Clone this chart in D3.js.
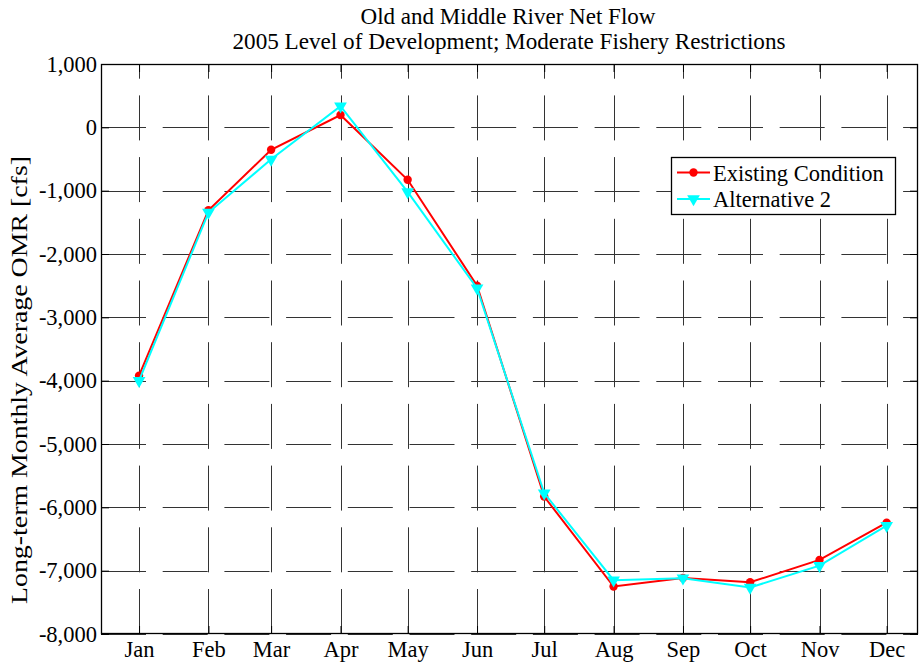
<!DOCTYPE html>
<html><head><meta charset="utf-8">
<script src="https://cdn.jsdelivr.net/npm/d3@7"></script>
<style>body{margin:0;background:#fff}svg{display:block;font-family:"Liberation Serif","Times New Roman",serif}</style>
</head><body>
<svg id="c" width="924" height="665"></svg>
<script>
const months = ["Jan","Feb","Mar","Apr","May","Jun","Jul","Aug","Sep","Oct","Nov","Dec"];
const existing = [-3920,-1310,-354,194,-828,-2500,-5830,-7250,-7115,-7183,-6830,-6242];
const alt2 = [-4000,-1345,-505,335,-1020,-2540,-5775,-7150,-7118,-7265,-6920,-6290];
const yTicks = [1000,0,-1000,-2000,-3000,-4000,-5000,-6000,-7000,-8000];
const titleLines = ["Old and Middle River Net Flow","2005 Level of Development; Moderate Fishery Restrictions"];
const yLabel = "Long-term Monthly Average OMR [cfs]";
const seriesNames = ["Existing Condition","Alternative 2"];

const svg = d3.select("#c");
const L=101, R=918, T=64, B=634;
const dates = months.map((m,i)=>new Date(2001,i,15));
const x = d3.scaleTime().domain([new Date(2000,11,29), new Date(2001,11,29)]).range([L,R]);
const y = d3.scaleLinear().domain([-8000,1000]).range([B,T]);
const fmt = v => d3.format(",")(v).replace("\u2212","-");

// grid
const g = svg.append("g");
dates.forEach(d=>{
  g.append("line").attr("x1",Math.round(x(d))+0.5).attr("x2",Math.round(x(d))+0.5).attr("y1",B).attr("y2",T)
   .attr("stroke","#333").attr("stroke-width",1).attr("stroke-dasharray","45,16.7");
});
yTicks.forEach(v=>{
  g.append("line").attr("y1",Math.round(y(v))+0.5).attr("y2",Math.round(y(v))+0.5).attr("x1",L).attr("x2",R)
   .attr("stroke","#333").attr("stroke-width",1).attr("stroke-dasharray","45,16.7");
});

// axes (inward ticks on all sides)
const tl = 8;
svg.append("g").attr("transform",`translate(0,${B})`)
  .call(d3.axisBottom(x).tickValues(dates).tickFormat((d,i)=>months[i]).tickSizeInner(-tl).tickSizeOuter(0).tickPadding(7))
  .call(a=>{a.select(".domain").remove();a.selectAll("text").attr("font-size",22.5).attr("font-family","Liberation Serif").attr("fill","#000");});
svg.append("g").attr("transform",`translate(0,${T})`)
  .call(d3.axisTop(x).tickValues(dates).tickFormat("").tickSizeInner(-tl).tickSizeOuter(0))
  .call(a=>a.select(".domain").remove());
svg.append("g").attr("transform",`translate(${L},0)`)
  .call(d3.axisLeft(y).tickValues(yTicks).tickFormat(fmt).tickSizeInner(-tl).tickSizeOuter(0).tickPadding(4))
  .call(a=>{a.select(".domain").remove();a.selectAll("text").attr("font-size",22.5).attr("font-family","Liberation Serif").attr("fill","#000");});
svg.append("g").attr("transform",`translate(${R},0)`)
  .call(d3.axisRight(y).tickValues(yTicks).tickFormat("").tickSizeInner(-tl).tickSizeOuter(0))
  .call(a=>a.select(".domain").remove());
svg.selectAll(".tick line").attr("stroke","#000");
svg.append("rect").attr("x",L+0.5).attr("y",T+0.5).attr("width",R-L-1).attr("height",B-T-1)
  .attr("fill","none").attr("stroke","#000").attr("stroke-width",1.3);

// series
const line = d3.line().x((d,i)=>x(dates[i])).y(d=>y(d));
const tri = d3.symbol().type(d3.symbolTriangle).size(70);
function drawSeries(vals,color,marker){
  svg.append("path").datum(vals).attr("d",line).attr("fill","none").attr("stroke",color).attr("stroke-width",2);
  vals.forEach((v,i)=>{
    if(marker==="circle") svg.append("circle").attr("cx",x(dates[i])).attr("cy",y(v)).attr("r",4.2).attr("fill",color);
    else svg.append("path").attr("d",tri).attr("transform",`translate(${x(dates[i])},${y(v)}) rotate(180)`).attr("fill",color);
  });
}
drawSeries(existing,"#ff0000","circle");
drawSeries(alt2,"#00ffff","tri");

// legend
const lg = svg.append("g");
lg.append("rect").attr("x",671.5).attr("y",157.5).attr("width",224).attr("height",57).attr("fill","#fff").attr("stroke","#000").attr("stroke-width",1.3);
const rows=[{c:"#ff0000",m:"circle",y:172.5},{c:"#00ffff",m:"tri",y:199}];
rows.forEach((r,i)=>{
  lg.append("line").attr("x1",677).attr("x2",710).attr("y1",r.y).attr("y2",r.y).attr("stroke",r.c).attr("stroke-width",2);
  if(r.m==="circle") lg.append("circle").attr("cx",693.5).attr("cy",r.y).attr("r",4.2).attr("fill",r.c);
  else lg.append("path").attr("d",tri).attr("transform",`translate(693.5,${r.y}) rotate(180)`).attr("fill",r.c);
  lg.append("text").attr("x",713).attr("y",r.y+8).attr("font-size",22.5).text(seriesNames[i]);
});

// titles
svg.append("text").attr("x",508).attr("y",24).attr("text-anchor","middle").attr("font-size",23)
  .attr("textLength",295).attr("lengthAdjust","spacingAndGlyphs").text(titleLines[0]);
svg.append("text").attr("x",509).attr("y",48.5).attr("text-anchor","middle").attr("font-size",23)
  .attr("textLength",553).attr("lengthAdjust","spacingAndGlyphs").text(titleLines[1]);
svg.append("text").attr("transform","translate(27,380) rotate(-90)").attr("text-anchor","middle").attr("font-size",22.5)
  .attr("textLength",448).attr("lengthAdjust","spacingAndGlyphs").text(yLabel);
</script>
</body></html>
